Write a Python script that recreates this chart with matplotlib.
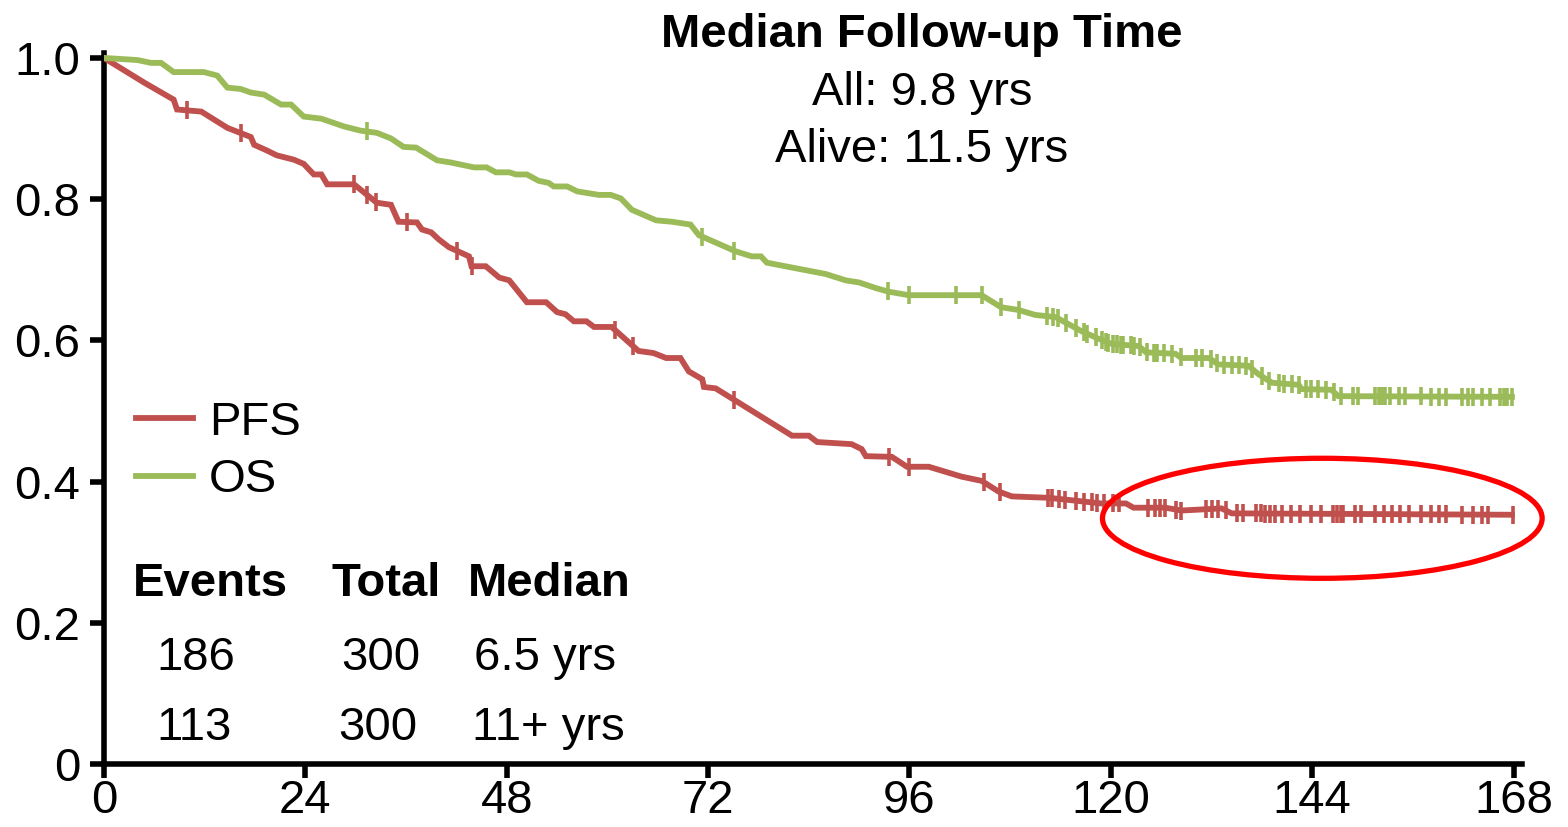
import numpy as np
import matplotlib
matplotlib.use("Agg")
import matplotlib.pyplot as plt
from matplotlib.patches import Ellipse

plt.rcParams["font.family"] = ["Liberation Sans", "DejaVu Sans"]

# ---- Kaplan-Meier curves (months, survival probability) ----
pfs_t = [0, 4.8, 8.3, 8.7, 11.6, 14.7, 17.5, 17.9, 19.4, 20.6, 22.6, 23.8, 25.0, 25.9,
         26.6, 29.8, 32.5, 34.2, 35.1, 37.3, 37.9, 39.0, 39.9, 41.1, 43.5, 43.8, 45.5,
         47.1, 48.3, 50.4, 52.7, 54.0, 55.0, 56.0, 57.5, 58.4, 60.5, 63.7, 65.5, 67.0,
         68.7, 69.7, 71.3, 71.5, 72.9, 82.0, 84.0, 85.0, 89.1, 90.3, 90.8, 93.9, 95.7,
         98.3, 102.2, 104.6, 106.6, 108.2, 112.6, 118.9, 121.8, 122.7, 126.5, 128.4,
         133.2, 134.4, 167.8]
pfs_s = [1.0, 0.965, 0.941, 0.927, 0.924, 0.901, 0.888, 0.877, 0.869, 0.862, 0.856,
         0.850, 0.835, 0.835, 0.821, 0.821, 0.795, 0.792, 0.768, 0.767, 0.757, 0.753,
         0.743, 0.732, 0.719, 0.705, 0.705, 0.689, 0.685, 0.654, 0.654, 0.640, 0.637,
         0.627, 0.627, 0.619, 0.619, 0.585, 0.582, 0.575, 0.575, 0.556, 0.545, 0.534,
         0.532, 0.465, 0.465, 0.456, 0.453, 0.446, 0.436, 0.435, 0.421, 0.421, 0.407,
         0.401, 0.386, 0.379, 0.377, 0.369, 0.369, 0.363, 0.363, 0.359, 0.362, 0.355,
         0.353]

os_t = [0, 4.0, 5.6, 6.8, 8.3, 11.9, 13.5, 14.7, 16.3, 17.5, 19.1, 21.1, 22.3, 23.8,
        25.9, 28.6, 30.6, 32.5, 34.2, 35.7, 37.2, 39.7, 41.3, 44.1, 45.6, 46.7, 48.3,
        49.1, 50.4, 51.8, 53.0, 53.6, 55.2, 56.4, 59.0, 60.4, 61.6, 62.9, 65.8, 67.7,
        69.9, 70.9, 75.3, 77.2, 78.3, 79.0, 86.0, 88.4, 90.0, 92.0, 93.5, 95.9, 104.6,
        106.9, 109.0, 111.0, 113.4, 116.5, 118.6, 120.1, 123.3, 124.2, 127.7, 128.4,
        131.7, 132.8, 136.4, 137.6, 139.2, 142.4, 142.7, 146.3, 147.1, 167.8]
os_s = [1.0, 0.997, 0.993, 0.993, 0.980, 0.980, 0.975, 0.958, 0.956, 0.951, 0.948,
        0.934, 0.934, 0.917, 0.914, 0.903, 0.897, 0.894, 0.886, 0.874, 0.873, 0.855,
        0.852, 0.845, 0.845, 0.838, 0.838, 0.835, 0.835, 0.826, 0.823, 0.818, 0.818,
        0.811, 0.806, 0.806, 0.801, 0.785, 0.770, 0.768, 0.764, 0.749, 0.726, 0.719,
        0.719, 0.710, 0.694, 0.685, 0.682, 0.674, 0.669, 0.664, 0.664, 0.647, 0.643,
        0.636, 0.633, 0.613, 0.602, 0.595, 0.592, 0.583, 0.581, 0.575, 0.575, 0.566,
        0.564, 0.552, 0.540, 0.537, 0.531, 0.530, 0.521, 0.520]

# ---- censoring times (months) ----
pfs_censor = [9.9, 16.3, 29.8, 31.3, 32.4, 36.1, 42.1, 43.8, 60.9, 63.0, 75.1, 93.5,
              95.9, 104.9, 106.8, 112.5, 113.0, 113.8, 114.5, 115.9, 116.8, 117.7,
              118.3, 119.2, 120.2, 121.0, 124.4, 125.3, 125.9, 126.5, 127.8, 128.4,
              131.3, 132.0, 132.8, 133.7, 135.0, 135.8, 137.3, 137.9, 138.4, 139.0,
              139.6, 140.4, 141.5, 142.6, 143.9, 145.0, 146.5, 146.9, 147.4, 147.7,
              149.1, 149.8, 151.5, 152.5, 153.5, 154.5, 155.5, 157.0, 158.1, 159.1,
              160.0, 161.8, 163.2, 164.2, 165.0, 167.9]
os_censor = [31.3, 71.3, 75.1, 93.4, 95.9, 101.5, 104.6, 106.9, 109.0, 112.4, 113.1,
             113.7, 114.7, 115.8, 116.8, 117.2, 118.2, 118.9, 119.4, 119.7, 120.2,
             120.7, 121.2, 121.5, 122.4, 122.7, 123.5, 124.3, 125.1, 125.5, 126.3,
             127.3, 128.3, 130.1, 130.9, 131.9, 132.6, 133.5, 134.4, 135.3, 136.1,
             136.8, 138.0, 138.8, 140.0, 140.6, 141.6, 142.4, 143.3, 143.9, 144.7,
             145.6, 146.6, 147.4, 148.9, 149.5, 151.5, 151.9, 152.3, 152.7, 153.3,
             154.3, 155.1, 157.0, 158.1, 159.1, 159.9, 161.8, 162.6, 163.2, 164.2,
             165.2, 166.4, 166.8, 167.2, 167.8]

series_labels = ["PFS", "OS"]
series_colors = ["#C0504D", "#9BBB59"]

x_ticks = [0, 24, 48, 72, 96, 120, 144, 168]
y_ticks = [0, 0.2, 0.4, 0.6, 0.8, 1.0]
y_ticklabels = ["0", "0.2", "0.4", "0.6", "0.8", "1.0"]

table_header = ["Events", "Total", "Median"]
table_rows = [["186", "300", "6.5 yrs"], ["113", "300", "11+ yrs"]]
followup_title = "Median Follow-up Time"
followup_lines = ["All: 9.8 yrs", "Alive: 11.5 yrs"]

# highlighted plateau region of PFS (centre month, centre survival, width, height)
plateau_center = (145.2, 0.348)
plateau_size = (52.4, 0.170)

# ---- figure ----
W, H = 1568, 827
fig = plt.figure(figsize=(W / 100, H / 100), dpi=100)


def fx(px):
    return px / W


def fy(py):
    return 1 - py / H


ax = fig.add_axes([fx(104), fy(764), fx(1522) - fx(104), fy(53) - fy(764)])
ax.set_xlim(0, 169)
ax.set_ylim(0, 1.007)

curves = [(pfs_t, pfs_s, pfs_censor), (os_t, os_s, os_censor)]
handles = []
for (t, s, c), lab, col in zip(curves, series_labels, series_colors):
    h, = ax.plot(t, s, color=col, lw=4.2, solid_joinstyle="miter", label=lab, zorder=3)
    handles.append(h)
    cy = np.interp(c, t, s)
    ax.plot(c, cy, ls="none", marker="|", ms=13.5, mew=2.6, color=col, zorder=3)

ell = Ellipse(plateau_center, plateau_size[0], plateau_size[1], fill=False,
              edgecolor="#FF0000", lw=3.8, clip_on=False, zorder=4)
ax.add_patch(ell)

for side in ["top", "right"]:
    ax.spines[side].set_visible(False)
for side in ["left", "bottom"]:
    ax.spines[side].set_linewidth(4.0)
ax.set_xticks(x_ticks)
ax.set_yticks(y_ticks)
ax.set_yticklabels(y_ticklabels)
ax.tick_params(axis="both", direction="out", length=10, width=4.0, labelsize=34,
               colors="black")
ax.tick_params(axis="y", pad=7)
ax.tick_params(axis="x", pad=1)

leg = ax.legend(handles=handles, loc="upper left", bbox_to_anchor=(fx(136), fy(401)),
                bbox_transform=fig.transFigure, frameon=False, fontsize=34,
                handlelength=1.21, handletextpad=0.33, labelspacing=0.28,
                borderpad=0, borderaxespad=0)
for ln in leg.get_lines():
    ln.set_linewidth(4.2)

# follow-up summary
fig.text(fx(922), fy(47), followup_title, ha="center", va="baseline",
         fontsize=34, fontweight="bold")
fig.text(fx(922), fy(105), followup_lines[0], ha="center", va="baseline", fontsize=34)
fig.text(fx(922), fy(162), followup_lines[1], ha="center", va="baseline", fontsize=34)

# events table
col_x_header = [133, 331, 468]
for x, txt in zip(col_x_header, table_header):
    fig.text(fx(x), fy(596), txt, ha="left", va="baseline", fontsize=34,
             fontweight="bold")
row_x = [[156, 341, 474], [156, 338, 472]]
row_y = [670, 740]
for xs, yb, row in zip(row_x, row_y, table_rows):
    for x, txt in zip(xs, row):
        fig.text(fx(x), fy(yb), txt, ha="left", va="baseline", fontsize=34)

fig.savefig("out.png", dpi=100)
